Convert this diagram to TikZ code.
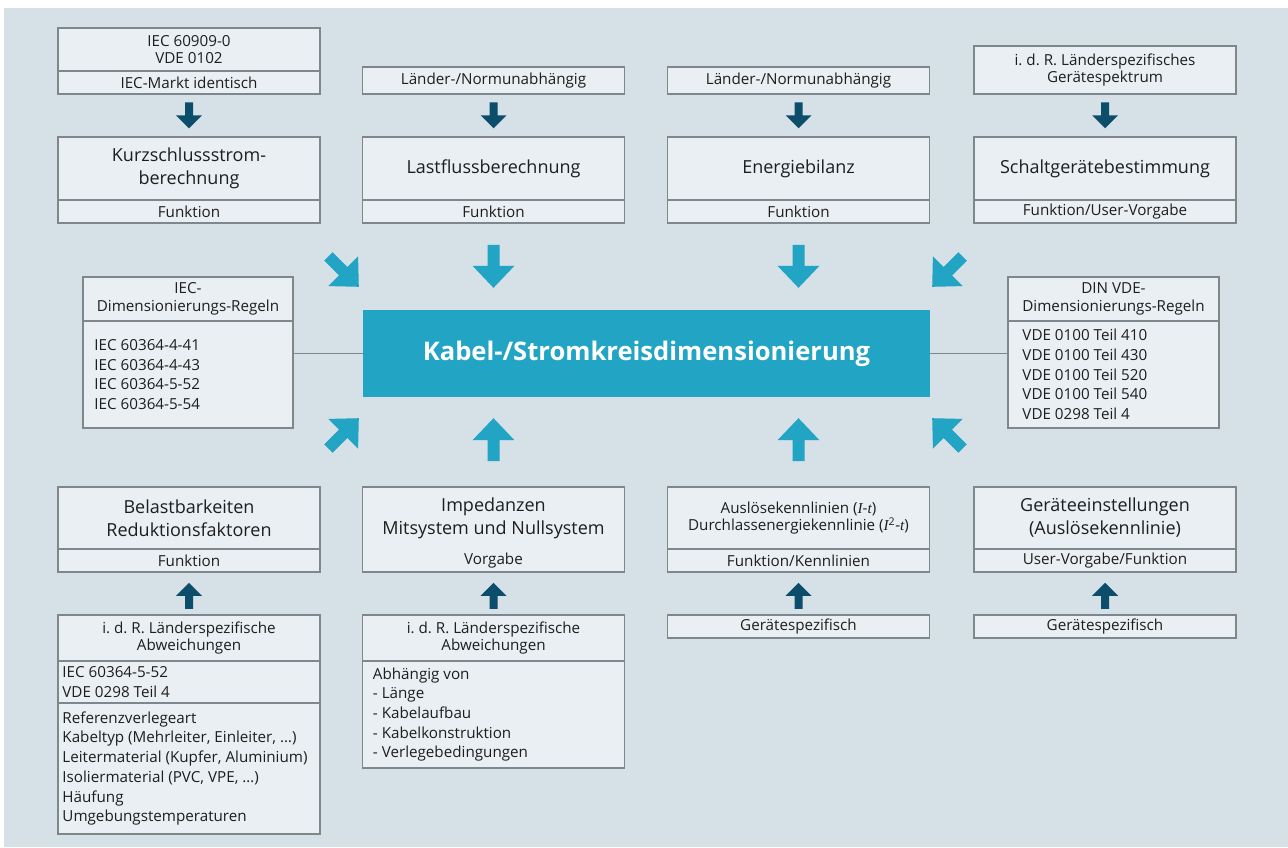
\documentclass[tikz,border=0pt]{standalone}
\usepackage{fontspec}
\setmainfont{Open Sans}
\newfontfamily\tnr{Liberation Serif}
\usetikzlibrary{calc}
\definecolor{bgc}{HTML}{D5E0E7}
\definecolor{boxc}{HTML}{E9EFF2}
\definecolor{bordc}{HTML}{7E878C}
\definecolor{bluec}{HTML}{22A4C4}
\definecolor{darkc}{HTML}{0D4D6C}
\definecolor{txtc}{HTML}{1E1E1E}
\newcommand{\fsmall}{\fontsize{15.2}{17.8}\selectfont}
\newcommand{\fbig}{\fontsize{18}{23}\selectfont}
\newcommand{\flist}{\fontsize{15.2}{19.7}\selectfont}
\newcommand{\ftitle}{\fontsize{25.6}{30}\selectfont\bfseries}
\newcommand{\itI}{{\tnr\itshape I}}
\newcommand{\itt}{{\tnr\itshape t}}
\frenchspacing
\begin{document}
\begin{tikzpicture}[x=1pt,y=-1pt,
  box/.style={draw=bordc,line width=1.5pt,fill=boxc,text=txtc,inner sep=0pt,
    align=center,minimum width=262pt,font=\fsmall},
  bigbox/.style={box,font=\fbig},
  listtxt/.style={text=txtc,inner sep=0pt,align=left,font=\flist,anchor=west},
  plaintxt/.style={text=txtc,inner sep=0pt,align=center},
  link/.style={draw=bordc,line width=1.5pt},
  darrow/.pic={\fill[darkc] (0,0) -- (-13,-13) -- (-4,-13) -- (-4,-26) -- (4,-26) -- (4,-13) -- (13,-13) -- cycle;},
  barrow/.pic={\fill[bluec] (0,0) -- (-21,-22) -- (-6,-22) -- (-6,-43) -- (6,-43) -- (6,-22) -- (21,-22) -- cycle;}
]
\useasboundingbox (0,0) rectangle (1288,847);
\fill[bgc] (4,8) rectangle (1288,847);

% top row
\node[box,minimum height=43] (n1a) at (189,49.5) {IEC 60909-0\\VDE 0102};
\node[box,minimum height=23] (n1b) at (189,82.5) {IEC-Markt identisch};
\node[box,minimum height=27] (n2a) at (493.5,80.5) {Länder-/Normunabhängig};
\node[box,minimum height=27] (n3a) at (798.5,80.5) {Länder-/Normunabhängig};
\node[box,minimum height=48] (n4a) at (1105,70) {i. d. R. Länderspezifisches\\Gerätespektrum};

% second row
\node[bigbox,minimum height=63] (k1) at (189,168.5) {Kurzschlussstrom-\\berechnung};
\node[box,minimum height=23] (k1f) at (189,211.5) {Funktion};
\node[bigbox,minimum height=63] (k2) at (493.5,168.5) {Lastflussberechnung};
\node[box,minimum height=23] (k2f) at (493.5,211.5) {Funktion};
\node[bigbox,minimum height=63] (k3) at (798.5,168.5) {Energiebilanz};
\node[box,minimum height=23] (k3f) at (798.5,211.5) {Funktion};
\node[bigbox,minimum height=63] (k4) at (1105,168.5) {Schaltgerätebestimmung};
\node[box,minimum height=23] (k4f) at (1105,211.5) {Funktion/User-Vorgabe};

\foreach \k in {k1,k2,k3,k4} \pic at ($(\k.north)+(0,-8)$) {darrow};

% middle
\node[fill=bluec,minimum width=567pt,minimum height=87pt,inner sep=0pt,text=white,font=\ftitle] (main) at (646.5,353.5) {Kabel-/Stromkreisdimensionierung};

\node[box,minimum width=210pt,minimum height=44pt] (iech) at (188,299) {IEC-\\Dimensionierungs-Regeln};
\node[box,minimum width=210pt,minimum height=107pt] (iecb) at (188,374.5) {};
\node[listtxt] (iect) at ($(iecb.west)+(12,0)$) {IEC 60364-4-41\\IEC 60364-4-43\\IEC 60364-5-52\\IEC 60364-5-54};

\node[box,minimum width=211pt,minimum height=44pt] (dinh) at (1113.5,299) {DIN VDE-\\Dimensionierungs-Regeln};
\node[box,minimum width=211pt,minimum height=107pt] (dinb) at (1113.5,374.5) {};
\node[listtxt] (dint) at ($(dinb.west)+(15,0)$) {VDE 0100 Teil 410\\VDE 0100 Teil 430\\VDE 0100 Teil 520\\VDE 0100 Teil 540\\VDE 0298 Teil 4};

\draw[link] (iecb.east |- main.west) -- (main.west);
\draw[link] (main.east) -- (dinb.west |- main.east);

% blue arrows
\pic at ($(main.north -| k2.south)+(0,-22)$) {barrow};
\pic at ($(main.north -| k3.south)+(0,-22)$) {barrow};
\pic[rotate=45] at ($(main.north west)+(-4,-23)$) {barrow};
\pic[rotate=-45] at ($(main.north east)+(2,-23)$) {barrow};

% fourth row
\node[bigbox,minimum height=62] (b1) at (189,518) {Belastbarkeiten\\Reduktionsfaktoren};
\node[box,minimum height=23] (b1f) at (189,560.5) {Funktion};
\node[box,minimum height=85] (b2) at (493.5,529.5) {};
\node[plaintxt,font=\fbig] (b2t) at (493.5,518) {Impedanzen\\Mitsystem und Nullsystem};
\node[plaintxt,font=\fsmall] (b2f) at (493.5,560.5) {Vorgabe};
\node[box,minimum height=62] (b3) at (798.5,518) {Auslösekennlinien (\itI-\itt)\\Durchlassenergiekennlinie (\itI\textsuperscript{2}-\itt)};
\node[box,minimum height=23] (b3f) at (798.5,560.5) {Funktion/Kennlinien};
\node[bigbox,minimum height=62] (b4) at (1105,518) {Geräteeinstellungen\\(Auslösekennlinie)};
\node[box,minimum height=23] (b4f) at (1105,560.5) {User-Vorgabe/Funktion};

\pic[rotate=180] at ($(main.south -| b2.north)+(0,21)$) {barrow};
\pic[rotate=180] at ($(main.south -| b3.north)+(0,21)$) {barrow};
\pic[rotate=135] at ($(main.south west)+(-4,21)$) {barrow};
\pic[rotate=-135] at ($(main.south east)+(2,21)$) {barrow};

% fifth row
\node[box,minimum height=46] (c1h) at (189,638) {i. d. R. Länderspezifische\\Abweichungen};
\node[box,minimum height=42] (c1m) at (189,682) {};
\node[listtxt] (c1mt) at ($(c1m.west)+(5,0)$) {IEC 60364-5-52\\VDE 0298 Teil 4};
\node[box,minimum height=131] (c1b) at (189,768.5) {};
\node[listtxt] (c1bt) at ($(c1b.west)+(5,0)$) {Referenzverlegeart\\Kabeltyp (Mehrleiter, Einleiter, …)\\Leitermaterial (Kupfer, Aluminium)\\Isoliermaterial (PVC, VPE, …)\\Häufung\\Umgebungstemperaturen};
\node[box,minimum height=46] (c2h) at (493.5,638) {i. d. R. Länderspezifische\\Abweichungen};
\node[box,minimum height=107] (c2b) at (493.5,714.5) {};
\node[listtxt] (c2bt) at ($(c2b.west)+(11,0)$) {Abhängig von\\- Länge\\- Kabelaufbau\\- Kabelkonstruktion\\- Verlegebedingungen};
\node[box,minimum height=23] (c3) at (798.5,626.5) {Gerätespezifisch};
\node[box,minimum height=23] (c4) at (1105,626.5) {Gerätespezifisch};

\foreach \b in {b1f,b2,b3f,b4f} \pic[rotate=180] at ($(\b.south)+(0,10)$) {darrow};
\end{tikzpicture}
\end{document}
